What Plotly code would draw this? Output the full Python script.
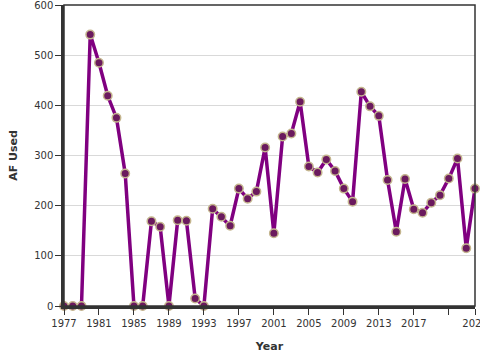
import plotly.graph_objects as go

years = list(range(1977, 2025))
af_used = [0, 0, 0, 541, 485, 419, 375, 264, 0, 0,
           169, 158, 0, 171, 170, 15, 0, 194, 178, 160,
           234, 214, 228, 316, 145, 338, 344, 407, 278, 266,
           292, 269, 234, 208, 427, 398, 379, 251, 148, 253,
           193, 186, 206, 221, 254, 294, 115, 234]

x_tick_vals = [1977, 1981, 1985, 1989, 1993, 1997, 2001, 2005, 2009, 2013, 2017, 2021, 2024]
x_tick_text = ["1977", "1981", "1985", "1989", "1993", "1997", "2001", "2005", "2009", "2013", "2017", "", "2024"]
y_tick_vals = [0, 100, 200, 300, 400, 500, 600]

fig = go.Figure()
fig.add_trace(go.Scatter(
    x=years, y=af_used, mode="lines+markers",
    line=dict(color="#800080", width=3.5),
    marker=dict(size=8.5, color="#6b1a5e", line=dict(color="#c4b58e", width=1.5)),
    cliponaxis=False, showlegend=False,
))

fig.add_shape(type="rect", xref="paper", yref="paper", x0=0, y0=0, x1=1, y1=1,
              line=dict(color="#333333", width=1.5), layer="above")

fig.update_layout(
    width=480, height=360,
    margin=dict(l=64, r=5, t=5, b=54),
    paper_bgcolor="white", plot_bgcolor="white",
    font=dict(family="DejaVu Sans", size=10, color="#333333"),
    xaxis=dict(
        range=[1977, 2024], tickmode="array", tickvals=x_tick_vals, ticktext=x_tick_text,
        showgrid=False, zeroline=False, automargin=False, ticklabeloverflow="allow",
        showline=True, linecolor="#333333", linewidth=2.5,
        ticks="outside", ticklen=6, tickcolor="#333333", tickwidth=1,
        title=dict(text="<b>Year</b>", font=dict(size=11, color="#333333")),
    ),
    yaxis=dict(
        range=[0, 600], tickmode="array", tickvals=y_tick_vals,
        showgrid=True, gridcolor="#d9d9d9", gridwidth=1, zeroline=False,
        automargin=False, ticklabeloverflow="allow",
        showline=True, linecolor="#333333", linewidth=2.5,
        ticks="outside", ticklen=6, tickcolor="#333333", tickwidth=1,
        title=dict(text="<b>AF Used</b>", font=dict(size=11, color="#333333")),
    ),
)

fig.write_html("out.html", config={"displayModeBar": False},
               post_script="document.body.style.margin='0';")
